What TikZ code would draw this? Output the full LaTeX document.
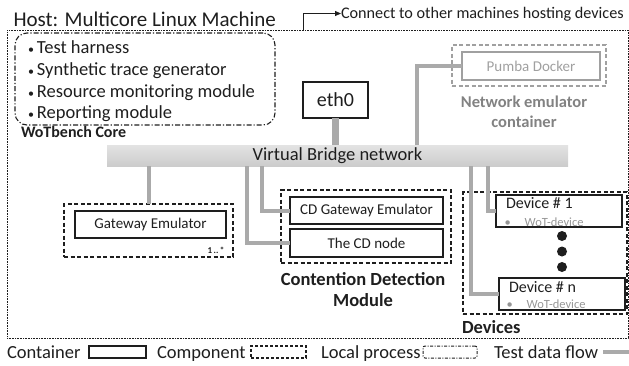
\documentclass[tikz,border=0pt]{standalone}
\usepackage{fontspec}
\setmainfont{Carlito}
\usetikzlibrary{arrows.meta}
\definecolor{flowgray}{RGB}{170,170,170}
\definecolor{pumbagray}{RGB}{160,160,160}
\definecolor{emugray}{RGB}{130,130,130}
\definecolor{wotgray}{RGB}{150,150,150}
\definecolor{inkc}{RGB}{30,30,30}
\newcommand{\smbul}{{\fontsize{12}{12}\selectfont\textbullet}}
\begin{document}
\begin{tikzpicture}[x=1pt,y=-1pt,
  every node/.style={inner sep=0pt, outer sep=0pt, text=inkc},
  box/.style={draw=inkc, line width=1.4pt},
  comp/.style={draw=inkc, dash pattern=on 4pt off 2.5pt, line width=1.3pt},
  lproc/.style={draw=inkc, dash pattern=on 5pt off 2pt on 1.2pt off 2pt, line width=1.1pt, rounded corners=12pt},
  hostbox/.style={draw=inkc, dash pattern=on 0.8pt off 0.8pt, line width=1pt},
  flow/.style={draw=flowgray, line width=4pt},
  fbig/.style={font=\fontsize{18.5}{22}\selectfont},
  fmid/.style={font=\fontsize{15}{18}\selectfont},
  fdev/.style={font=\fontsize{16}{19}\selectfont},
  fwot/.style={font=\fontsize{12.5}{15}\selectfont, text=wotgray},
  fbold/.style={font=\fontsize{18.5}{21}\selectfont\bfseries, align=center},
]
\useasboundingbox (0,0) rectangle (629,365);

% host
\node[font=\fontsize{21}{24}\selectfont, anchor=base west] (title) at (13.5,26.5) {Host: Multicore Linux Machine};
\node[hostbox, minimum width=621pt, minimum height=308pt] (host) at (317.5,184) {};
\coordinate (cn) at (303,30);
\node[font=\fontsize{16.2}{19}\selectfont, anchor=base west] (conn) at (341,18.5) {Connect to other machines hosting devices};
\coordinate (connw) at (341,13.5);
\draw[line width=0.8pt, inkc, -{Triangle[length=6pt,width=5pt]}] (cn) |- (connw);

% WoTbench core
\node[lproc, minimum width=260pt, minimum height=92pt] (core) at (145,79) {};
\node[fbig, anchor=base west] (i1) at (28,53) {\smbul\hspace{3pt}Test harness};
\node[fbig, anchor=base west] (i2) at (28,75) {\smbul\hspace{3pt}Synthetic trace generator};
\node[fbig, anchor=base west] (i3) at (28,97) {\smbul\hspace{3pt}Resource monitoring module};
\node[fbig, anchor=base west] (i4) at (28,118.5) {\smbul\hspace{3pt}Reporting module};
\node[font=\fontsize{16}{19}\selectfont\bfseries, anchor=base west] (corel) at (21,137.5) {WoTbench Core};

% eth0
\node[box, minimum width=65pt, minimum height=36pt, font=\fontsize{20}{24}\selectfont] (eth) at (335.5,100) {eth0};

% Pumba
\node[draw=pumbagray, dash pattern=on 4pt off 2.5pt, line width=1.1pt, minimum width=154pt, minimum height=41pt] (pumbaC) at (529,65.5) {};
\node[draw=pumbagray, line width=1.3pt, minimum width=138pt, minimum height=28pt, fmid, text=pumbagray] (pumba) at (531,66) {Pumba Docker};
\node[font=\fontsize{16.5}{20}\selectfont\bfseries, align=center, text=emugray] (emul) at (524,112) {Network emulator\\container};

% bridge
\node[top color=gray!22, bottom color=gray!40, minimum width=461pt, minimum height=21pt, fbig] (bridge) at (337.5,155.5) {Virtual Bridge network};

% gateway emulator
\node[comp, minimum width=169pt, minimum height=53pt] (gwC) at (148.5,230.5) {};
\node[box, minimum width=151pt, minimum height=27pt, fmid] (gw) at (150.5,224.5) {Gateway Emulator};
\node[font=\fontsize{9}{10}\selectfont\bfseries] (mult) at (216,250) {1\,..\,*};

% CD module
\node[comp, minimum width=170pt, minimum height=73pt] (cdC) at (366,226.5) {};
\node[box, minimum width=153pt, minimum height=27pt, fmid] (cdgw) at (366.5,210.5) {CD Gateway Emulator};
\node[box, minimum width=153pt, minimum height=28pt, fmid] (cdn) at (366.5,243) {The CD node};
\node[fbold] (cdl) at (363,289.5) {Contention Detection\\Module};

% devices
\node[comp, minimum width=164pt, minimum height=122pt] (devC) at (545,253) {};
\node[box, minimum width=126pt, minimum height=32pt] (dev1) at (559,211) {};
\node[fdev, anchor=base west] (dev1t) at (506,208.5) {Device \# 1};
\node[fwot, anchor=base west] (dev1w) at (504.5,226.5) {\textbullet\hspace{14pt}WoT-device};
\node[box, minimum width=126pt, minimum height=32pt] (devn) at (562,294) {};
\node[fdev, anchor=base west] (devnt) at (509,292.5) {Device \# n};
\node[fwot, anchor=base west] (devnw) at (506.5,308.5) {\textbullet\hspace{14pt}WoT-device};
\fill[inkc] (562,236) circle (5pt) (562,251.5) circle (5pt) (562,267) circle (5pt);
\node[font=\fontsize{18.5}{21}\selectfont\bfseries, anchor=base west] (devl) at (462,333.5) {Devices};

% flows
\coordinate (tapP) at (417,145);
\coordinate (tapA) at (262,166);
\coordinate (tapB) at (247,166);
\coordinate (tapC) at (488,166);
\coordinate (tapD) at (471,166);
\draw[flow, line width=7pt] (eth.south) -- (eth.south |- bridge.north);
\draw[flow] (pumba.west) -| (tapP);
\draw[flow] (gwC.north) -- (gwC.north |- bridge.south);
\draw[flow] (tapA) |- (cdgw.west);
\draw[flow] (tapB) |- (cdn.west);
\draw[flow] (tapC) |- (dev1.west);
\draw[flow] (tapD) |- (devn.west);

% legend
\node[fbig, anchor=base west] (lc) at (7,358) {Container};
\node[draw=inkc, line width=1.2pt, minimum width=57pt, minimum height=12pt] (lcb) at (117.5,352) {};
\node[fbig, anchor=base west] (lk) at (157,358) {Component};
\node[comp, dash pattern=on 3pt off 2pt, line width=1.1pt, minimum width=55pt, minimum height=12pt] (lkb) at (278.5,352) {};
\node[fbig, anchor=base west] (lp) at (321,358) {Local process};
\node[draw=inkc, dash pattern=on 3pt off 1.5pt on 1pt off 1.5pt, line width=1pt, minimum width=54pt, minimum height=12pt, rounded corners=2pt] (lpb) at (450,352) {};
\node[fbig, anchor=base west] (lf) at (494,358) {Test data flow};
\coordinate (lfa) at (603,352);
\coordinate (lfb) at (629,352);
\draw[flow] (lfa) -- (lfb);
\end{tikzpicture}
\end{document}
